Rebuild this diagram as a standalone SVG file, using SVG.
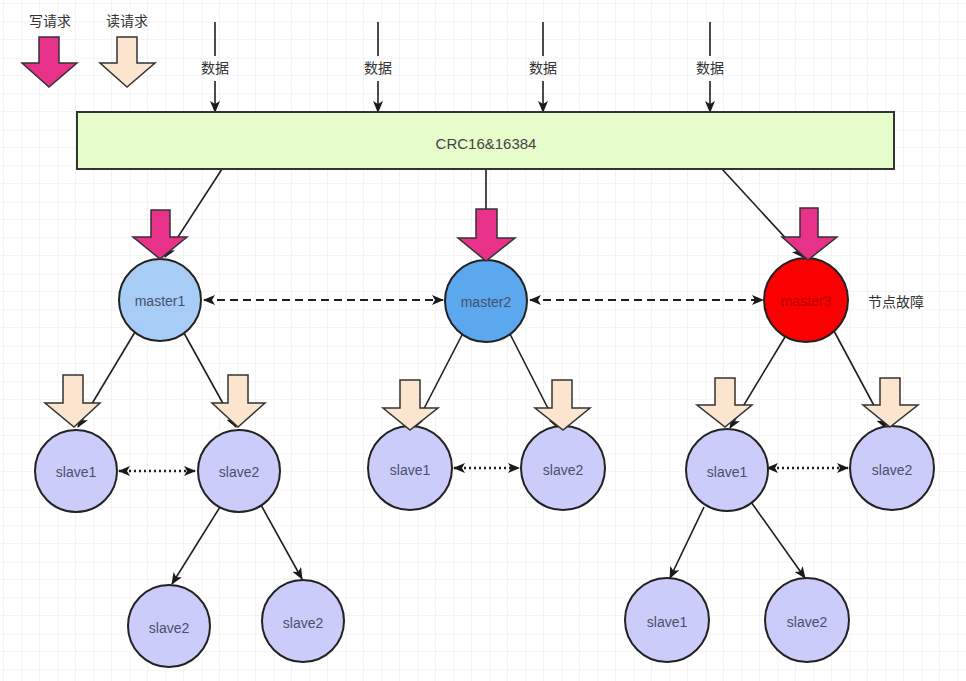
<svg xmlns="http://www.w3.org/2000/svg" width="966" height="681" viewBox="0 0 966 681">
<defs>
<pattern id="grid" width="36" height="36" patternUnits="userSpaceOnUse" x="4" y="4">
<path d="M36 0 V36 M0 36 H36" fill="none" stroke="#e9e9e9" stroke-width="1.2"/>
<path d="M18 0 V36 M0 18 H36" fill="none" stroke="#f4f4f4" stroke-width="1"/>
</pattern>
<marker id="ah" viewBox="0 0 12 10" refX="11" refY="5" markerWidth="12" markerHeight="10" markerUnits="userSpaceOnUse" orient="auto-start-reverse">
<path d="M0,0 L12,5 L0,10 L3,5 z" fill="#1a1a1a"/>
</marker>
</defs>
<style>
text{font-family:"Liberation Sans","Noto Sans CJK SC",sans-serif;text-anchor:middle;dominant-baseline:central}
.lbl{font-size:14px;fill:#333}
.nt{font-size:14px;fill:#48506a}
.conn{stroke:#1f1f1f;stroke-width:1.6;fill:none}
.dash{stroke:#1f1f1f;stroke-width:2;fill:none;stroke-dasharray:8 5}
.dot{stroke:#1f1f1f;stroke-width:2.5;fill:none;stroke-dasharray:2 3}
.node{stroke:#222;stroke-width:2}
.slave{fill:#ccccfa}
.wr{fill:#e8328a;stroke:#333;stroke-width:1.5}
.rd{fill:#fbe5cf;stroke:#333;stroke-width:1.5}
</style>
<rect width="966" height="681" fill="#ffffff"/>
<rect width="966" height="681" fill="url(#grid)"/>

<g id="legend">
<text class="lbl" x="50" y="21">写请求</text>
<text class="lbl" x="127" y="21">读请求</text>
<path class="wr" d="M39,37 H59 V63 H77 L49,87 L22,63 H39 Z"/>
<path class="rd" d="M117,37 H137 V63 H155 L127,87 L100,63 H117 Z"/>
</g>

<g id="connectors">
<line class="conn" x1="215" y1="22" x2="215" y2="56"/>
<line class="conn" x1="215" y1="81" x2="215" y2="112" marker-end="url(#ah)"/>
<line class="conn" x1="378" y1="22" x2="378" y2="56"/>
<line class="conn" x1="378" y1="81" x2="378" y2="112" marker-end="url(#ah)"/>
<line class="conn" x1="543" y1="22" x2="543" y2="56"/>
<line class="conn" x1="543" y1="81" x2="543" y2="112" marker-end="url(#ah)"/>
<line class="conn" x1="710" y1="22" x2="710" y2="56"/>
<line class="conn" x1="710" y1="81" x2="710" y2="112" marker-end="url(#ah)"/>

<line class="conn" x1="222" y1="169" x2="165" y2="257" marker-end="url(#ah)"/>
<line class="conn" x1="486" y1="169" x2="486" y2="258" marker-end="url(#ah)"/>
<line class="conn" x1="722" y1="169" x2="803" y2="257" marker-end="url(#ah)"/>

<line class="dash" x1="204" y1="300" x2="443" y2="300" marker-start="url(#ah)" marker-end="url(#ah)"/>
<line class="dash" x1="530" y1="300" x2="763" y2="300" marker-start="url(#ah)" marker-end="url(#ah)"/>

<line class="conn" x1="135" y1="332" x2="78" y2="427" marker-end="url(#ah)"/>
<line class="conn" x1="184" y1="333" x2="236" y2="427" marker-end="url(#ah)"/>
<line class="conn" x1="462" y1="335" x2="414" y2="428" marker-end="url(#ah)"/>
<line class="conn" x1="510" y1="334" x2="558" y2="428" marker-end="url(#ah)"/>
<line class="conn" x1="785" y1="337" x2="730" y2="428" marker-end="url(#ah)"/>
<line class="conn" x1="834" y1="331" x2="886" y2="428" marker-end="url(#ah)"/>

<line class="dot" x1="119" y1="471" x2="195" y2="471" marker-start="url(#ah)" marker-end="url(#ah)"/>
<line class="dot" x1="454" y1="468" x2="519" y2="468" marker-start="url(#ah)" marker-end="url(#ah)"/>
<line class="dot" x1="767" y1="468" x2="848" y2="468" marker-start="url(#ah)" marker-end="url(#ah)"/>

<line class="conn" x1="220" y1="507" x2="172" y2="584" marker-end="url(#ah)"/>
<line class="conn" x1="261" y1="505" x2="302" y2="579" marker-end="url(#ah)"/>
<line class="conn" x1="704" y1="507" x2="670" y2="578" marker-end="url(#ah)"/>
<line class="conn" x1="751" y1="502" x2="805" y2="578" marker-end="url(#ah)"/>
</g>

<g id="data-labels">
<text class="lbl" x="215" y="68">数据</text>
<text class="lbl" x="378" y="68">数据</text>
<text class="lbl" x="543" y="68">数据</text>
<text class="lbl" x="710" y="68">数据</text>
</g>

<g id="crc">
<rect x="77" y="112" width="817" height="57" fill="#e6fcca" stroke="#333" stroke-width="2"/>
<text x="486" y="143" style="font-size:15px;fill:#444">CRC16&amp;16384</text>
</g>

<g id="master1">
<circle class="node" cx="160" cy="300" r="41" fill="#a7cdf6"/>
<text class="nt" x="160" y="301">master1</text>
<path class="wr" d="M151,210 H170 V237 H187 L160,259 L133,237 H151 Z"/>
</g>
<g id="master2">
<circle class="node" cx="486" cy="301" r="41" fill="#5ba8ef"/>
<text class="nt" x="486" y="302">master2</text>
<path class="wr" d="M476,209 H497 V238 H515 L486,261 L458,238 H476 Z"/>
</g>
<g id="master3">
<circle class="node" cx="806" cy="300" r="42" fill="#fb0000"/>
<text x="806" y="301" style="font-size:14px;fill:#b80000">master3</text>
<path class="wr" d="M800,208 H818 V237 H837 L808,260 L782,237 H800 Z"/>
<text class="lbl" x="896" y="302">节点故障</text>
</g>

<g id="m1-slave1">
<circle class="node slave" cx="76" cy="471" r="41"/>
<text class="nt" x="76" y="472">slave1</text>
<path class="rd" d="M63,375 H83 V403 H100 L74,427 L45,403 H63 Z"/>
</g>
<g id="m1-slave2">
<circle class="node slave" cx="239" cy="471" r="41"/>
<text class="nt" x="239" y="472">slave2</text>
<path class="rd" d="M228,375 H248 V403 H265 L238,427 L212,403 H228 Z"/>
</g>
<g id="m1-slave2-a">
<circle class="node slave" cx="169" cy="626" r="41"/>
<text class="nt" x="169" y="628">slave2</text>
</g>
<g id="m1-slave2-b">
<circle class="node slave" cx="303" cy="621" r="41"/>
<text class="nt" x="303" y="623">slave2</text>
</g>

<g id="m2-slave1">
<circle class="node slave" cx="410" cy="468" r="42"/>
<text class="nt" x="410" y="470">slave1</text>
<path class="rd" d="M400,380 H420 V408 H438 L410,430 L383,408 H400 Z"/>
</g>
<g id="m2-slave2">
<circle class="node slave" cx="563" cy="468" r="42"/>
<text class="nt" x="563" y="470">slave2</text>
<path class="rd" d="M552,380 H572 V408 H590 L563,430 L535,408 H552 Z"/>
</g>

<g id="m3-slave1">
<circle class="node slave" cx="727" cy="470" r="41"/>
<text class="nt" x="727" y="472">slave1</text>
<path class="rd" d="M715,378 H735 V405 H752 L725,427 L697,405 H715 Z"/>
</g>
<g id="m3-slave2">
<circle class="node slave" cx="892" cy="468" r="42"/>
<text class="nt" x="892" y="470">slave2</text>
<path class="rd" d="M880,378 H900 V405 H918 L890,427 L863,405 H880 Z"/>
</g>
<g id="m3-slave1-a">
<circle class="node slave" cx="667" cy="620" r="42"/>
<text class="nt" x="667" y="622">slave1</text>
</g>
<g id="m3-slave1-b">
<circle class="node slave" cx="807" cy="620" r="42"/>
<text class="nt" x="807" y="622">slave2</text>
</g>
</svg>
